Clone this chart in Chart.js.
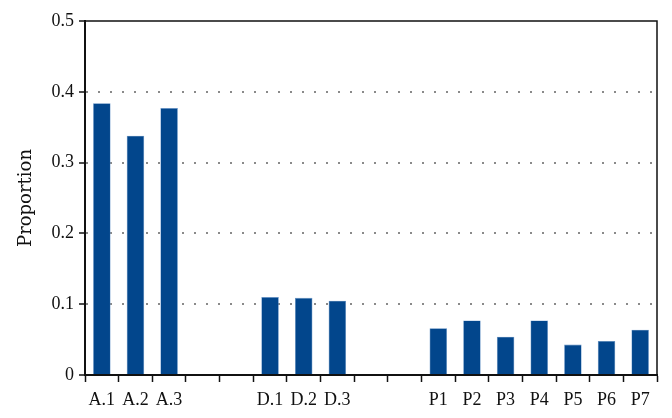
<!DOCTYPE html>
<html>
<head>
<meta charset="utf-8">
<script src="https://cdn.jsdelivr.net/npm/chart.js@4/dist/chart.umd.min.js"></script>
<style>
    html, body { margin: 0; padding: 0; background: #fff; }
    #wrap { width: 672px; height: 418px; position: relative; }
</style>
</head>
<body>
<div id="wrap"><canvas id="proportionChart"></canvas></div>
<script>
// categories (empty strings are the gaps between groups)
const categories = ['A.1', 'A.2', 'A.3', '', '', 'D.1', 'D.2', 'D.3', '', '',
    'P1', 'P2', 'P3', 'P4', 'P5', 'P6', 'P7'];

const proportions = [0.384, 0.338, 0.377, null, null, 0.110, 0.109, 0.105, null, null,
    0.066, 0.077, 0.054, 0.077, 0.043, 0.048, 0.064];

const yTicks = [0, 0.1, 0.2, 0.3, 0.4, 0.5];

const COLORS = {
    bar: '#02468c',
    barEdge: '#5f8fc6',
    axis: '#111',
    grid: '#8a8a8a'
};

const SERIF = '"Liberation Serif", "Times New Roman", serif';

// top and right frame lines, plus the cropped bottom of the original
const framePlugin = {
    id: 'frame',
    afterDraw(chart) {
        const { ctx, chartArea } = chart;
        ctx.save();
        ctx.strokeStyle = COLORS.axis;
        ctx.lineWidth = 1.5;
        ctx.beginPath();
        ctx.moveTo(chartArea.left, chartArea.top);
        ctx.lineTo(chartArea.right, chartArea.top);
        ctx.lineTo(chartArea.right, chartArea.bottom);
        ctx.stroke();
        ctx.fillStyle = '#fff';
        ctx.fillRect(0, 405, chart.width, chart.height - 405);
        ctx.restore();
    }
};

new Chart(document.getElementById('proportionChart'), {
    type: 'bar',
    data: {
        labels: categories,
        datasets: [{
            data: proportions,
            backgroundColor: COLORS.bar,
            borderColor: COLORS.barEdge,
            borderWidth: 0.6,
            barPercentage: 0.52,
            categoryPercentage: 1
        }]
    },
    options: {
        responsive: true,
        maintainAspectRatio: false,
        animation: false,
        layout: { padding: { top: 21, right: 15, left: 0, bottom: 0 } },
        plugins: {
            legend: { display: false },
            tooltip: { enabled: false }
        },
        scales: {
            x: {
                offset: true,
                afterFit: (scale) => { scale.height = 43; },
                grid: {
                    offset: true,
                    drawOnChartArea: false,
                    tickLength: 7,
                    tickColor: COLORS.axis,
                    tickWidth: 1.5
                },
                border: { color: COLORS.axis, width: 2 },
                ticks: {
                    color: '#111',
                    font: { family: SERIF, size: 18 },
                    padding: 7,
                    maxRotation: 0,
                    autoSkip: false
                }
            },
            y: {
                min: 0,
                max: 0.5,
                afterFit: (scale) => { scale.width = 85; },
                afterBuildTicks: (scale) => {
                    scale.ticks = yTicks.map(v => ({ value: v }));
                },
                grid: {
                    color: (c) => (c.tick && (c.tick.value === 0 || c.tick.value === 0.5)) ? 'rgba(0,0,0,0)' : COLORS.grid,
                    lineWidth: 2,
                    tickLength: 6,
                    tickColor: COLORS.axis,
                    tickWidth: 1.5
                },
                border: { color: COLORS.axis, width: 2, dash: [2, 10] },
                ticks: {
                    color: '#111',
                    font: { family: SERIF, size: 18 },
                    padding: 5,
                    callback: (v) => String(v)
                },
                title: {
                    display: true,
                    text: 'Proportion',
                    color: '#111',
                    font: { family: '"DejaVu Serif", serif', size: 18 },
                    padding: { top: 16, bottom: 0 }
                }
            }
        }
    },
    plugins: [framePlugin]
});
</script>
</body>
</html>
